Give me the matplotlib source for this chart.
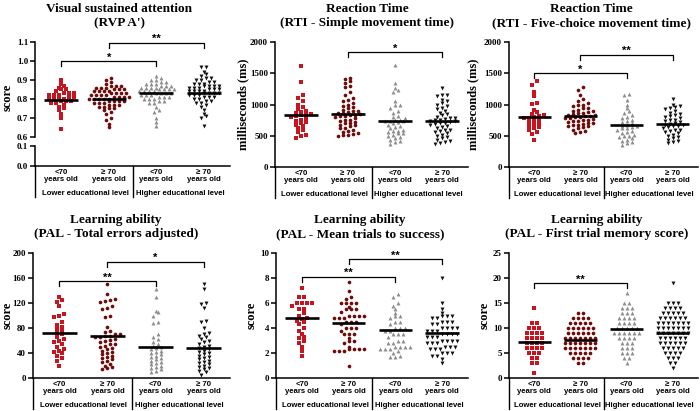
import numpy as np
import matplotlib
matplotlib.use("Agg")
import matplotlib.pyplot as plt
from matplotlib.lines import Line2D

W, H = 700, 411
SERIF = "Liberation Serif"
SANS = "Liberation Sans"

group_labels = ["<70\nyears old", "\u2265 70\nyears old", "<70\nyears old", "\u2265 70\nyears old"]
edu_labels = ["Lower educational level", "Higher educational level"]
colors = ["#c8141e", "#6e0c0c", "#8c8c8c", "#111111"]
markers = ["s", "o", "^", "v"]
msizes = [6, 7, 8, 8]

# ---- RVP A'
rvp_1 = [0.90, 0.88, 0.87, 0.86, 0.85, 0.85, 0.84, 0.83, 0.83, 0.83, 0.82, 0.82, 0.82, 0.81, 0.81,
         0.80, 0.80, 0.80, 0.80, 0.79, 0.79, 0.79, 0.78, 0.78, 0.77, 0.76, 0.75, 0.74, 0.72, 0.70, 0.64]
rvp_2 = [0.91, 0.90, 0.89, 0.88, 0.87, 0.87, 0.87, 0.86, 0.86, 0.86, 0.85, 0.85, 0.85, 0.84, 0.84,
         0.84, 0.84, 0.83, 0.83, 0.83, 0.83, 0.82, 0.82, 0.82, 0.82, 0.81, 0.81, 0.81, 0.81, 0.80,
         0.80, 0.80, 0.80, 0.80, 0.79, 0.79, 0.79, 0.79, 0.78, 0.78, 0.78, 0.77, 0.77, 0.77, 0.76,
         0.76, 0.75, 0.75, 0.74, 0.73, 0.72, 0.70, 0.69, 0.67, 0.65]
rvp_3 = [0.92, 0.91, 0.90, 0.90, 0.89, 0.89, 0.88, 0.88, 0.88, 0.87, 0.87, 0.87, 0.86, 0.86, 0.86,
         0.86, 0.85, 0.85, 0.85, 0.85, 0.84, 0.84, 0.84, 0.84, 0.83, 0.83, 0.83, 0.83, 0.82, 0.82,
         0.82, 0.81, 0.81, 0.81, 0.80, 0.80, 0.80, 0.79, 0.79, 0.78, 0.78, 0.76, 0.74, 0.73, 0.70,
         0.68, 0.66]
rvp_4 = [0.97, 0.97, 0.94, 0.93, 0.92, 0.91, 0.91, 0.90, 0.90, 0.89, 0.89, 0.88, 0.88, 0.88, 0.87,
         0.87, 0.87, 0.87, 0.86, 0.86, 0.86, 0.85, 0.85, 0.85, 0.84, 0.84, 0.84, 0.84, 0.83, 0.83,
         0.83, 0.83, 0.82, 0.82, 0.82, 0.81, 0.81, 0.81, 0.80, 0.80, 0.79, 0.79, 0.78, 0.78, 0.77,
         0.76, 0.74, 0.72, 0.71, 0.70, 0.66]
rvp_means = [0.795, 0.80, 0.83, 0.833]

# ---- RTI simple movement time
simple_1 = [1610, 1360, 1150, 1100, 1050, 1000, 960, 930, 900, 880, 860, 850, 840, 830, 820, 800,
            780, 760, 740, 720, 700, 680, 650, 620, 600, 560, 520, 500, 470]
simple_2 = [1430, 1410, 1380, 1350, 1300, 1280, 1200, 1150, 1100, 1080, 1050, 1020, 1000, 980, 960,
            940, 920, 900, 890, 880, 870, 860, 850, 840, 830, 820, 810, 800, 780, 760, 750, 740,
            720, 700, 700, 680, 670, 650, 630, 620, 600, 580, 560, 550, 530, 520, 510, 500]
simple_3 = [1630, 1350, 1270, 1230, 1200, 1050, 1000, 990, 950, 900, 870, 820, 800, 780, 760, 750,
            740, 740, 730, 720, 700, 680, 660, 640, 620, 600, 580, 570, 560, 550, 540, 520, 500,
            480, 460, 440, 420, 400, 370]
simple_4 = [1260, 1160, 1150, 1130, 1070, 1050, 1020, 1000, 970, 950, 930, 900, 870, 850, 830, 800,
            790, 780, 770, 760, 750, 740, 730, 720, 710, 700, 690, 680, 660, 640, 620, 600, 590,
            580, 560, 540, 520, 500, 480, 460, 440, 420, 400, 380, 370]
simple_means = [840, 855, 740, 730]

# ---- RTI five-choice movement time
five_1 = [1370, 1320, 1200, 1130, 1020, 1010, 920, 880, 850, 830, 820, 800, 790, 780, 760, 740,
          720, 700, 680, 660, 640, 620, 600, 560, 530, 430]
five_2 = [1280, 1230, 1150, 1090, 1050, 1020, 1000, 990, 970, 950, 940, 920, 900, 890, 880, 870,
          860, 850, 840, 830, 820, 810, 800, 800, 790, 780, 770, 760, 750, 740, 730, 720, 710, 700,
          690, 680, 670, 660, 650, 640, 620, 600, 580, 560, 540]
five_3 = [1170, 1150, 1070, 1000, 940, 900, 860, 830, 800, 780, 760, 740, 720, 700, 680, 660, 650,
          640, 630, 620, 600, 580, 560, 540, 520, 500, 490, 480, 460, 440, 420, 400, 380, 360]
five_4 = [1090, 990, 980, 960, 950, 930, 900, 870, 850, 830, 810, 800, 780, 760, 750, 740, 720, 700,
          690, 680, 670, 660, 650, 640, 620, 600, 590, 580, 560, 540, 520, 500, 480, 460, 440, 420,
          400, 380]
five_means = [800, 810, 665, 685]

# ---- PAL total errors adjusted
err_1 = [130, 125, 122, 115, 102, 100, 98, 90, 85, 82, 78, 75, 72, 70, 65, 62, 60, 58, 55, 50, 47,
         44, 42, 40, 35, 32, 28, 20]
err_2 = [150, 134, 127, 125, 124, 122, 115, 112, 110, 100, 98, 82, 76, 73, 70, 70, 68, 67, 66, 65,
         63, 61, 60, 58, 55, 54, 52, 50, 48, 46, 44, 42, 40, 38, 36, 34, 32, 30, 28, 26, 22, 20, 18,
         16, 14]
err_3 = [142, 130, 108, 105, 100, 90, 88, 70, 66, 62, 58, 55, 52, 50, 48, 46, 44, 42, 40, 38, 36,
         34, 32, 30, 28, 26, 24, 22, 20, 18, 16, 14, 12, 10]
err_4 = [150, 142, 120, 118, 112, 92, 90, 80, 72, 70, 68, 65, 62, 60, 58, 55, 52, 50, 48, 46, 44,
         42, 40, 38, 36, 34, 32, 30, 28, 26, 24, 22, 20, 18, 16, 14, 12, 10, 5]
err_means = [72, 68, 49, 48]

# ---- PAL mean trials to success
trials_1 = [7.2, 6.5, 6.5, 6.0, 6.0, 6.0, 6.0, 5.8, 5.5, 5.5, 5.2, 5.0, 4.8, 4.7, 4.6, 4.5, 4.3,
            4.0, 3.8, 3.5, 3.3, 3.2, 3.0, 2.8, 2.5, 2.2, 1.8]
trials_2 = [7.7, 7.0, 6.5, 6.3, 6.0, 6.0, 6.0, 6.0, 5.7, 5.5, 5.5, 5.5, 5.3, 5.0, 5.0, 5.0, 5.0,
            4.8, 4.8, 4.8, 4.5, 4.5, 4.5, 4.3, 4.0, 4.0, 4.0, 3.8, 3.5, 3.5, 3.5, 3.2, 3.0, 3.0,
            2.8, 2.5, 2.3, 2.3, 2.3, 2.3, 2.2, 2.2, 2.2, 1.0]
trials_3 = [6.7, 6.5, 6.0, 5.8, 5.5, 5.2, 5.0, 5.0, 4.8, 4.5, 4.5, 4.3, 4.0, 4.0, 4.0, 3.8, 3.8,
            3.5, 3.5, 3.5, 3.3, 3.0, 3.0, 2.8, 2.8, 2.5, 2.5, 2.5, 2.5, 2.3, 2.3, 2.3, 2.2, 2.0,
            1.8, 1.7, 1.7]
trials_4 = [8.0, 6.0, 5.5, 5.2, 5.0, 5.0, 5.0, 4.8, 4.8, 4.5, 4.5, 4.5, 4.3, 4.3, 4.0, 4.0, 4.0,
            4.0, 3.8, 3.8, 3.8, 3.5, 3.5, 3.5, 3.5, 3.3, 3.3, 3.3, 3.0, 3.0, 3.0, 3.0, 2.8, 2.8,
            2.8, 2.5, 2.5, 2.5, 2.3, 2.3, 2.3, 2.0, 2.0, 2.0, 1.8, 1.8, 1.5, 1.2]
trials_means = [4.8, 4.4, 3.85, 3.6]

# ---- PAL first trial memory score (score values and how many participants)
mem_1_val = [14, 11, 10, 9, 8, 7, 6, 5, 4, 3, 1]
mem_1_cnt = [1, 2, 3, 4, 4, 4, 4, 3, 2, 2, 1]
mem_2_val = [13, 12, 11, 10, 9, 8, 7, 6, 5, 4, 3]
mem_2_cnt = [2, 4, 5, 6, 6, 7, 7, 7, 5, 4, 2]
mem_3_val = [17, 15, 14, 13, 12, 11, 10, 9, 8, 7, 6, 5, 4, 3]
mem_3_cnt = [1, 2, 3, 3, 4, 4, 5, 6, 4, 3, 3, 3, 2, 1]
mem_4_val = [19, 15, 14, 13, 12, 11, 10, 9, 8, 7, 6, 5, 4, 3, 2]
mem_4_cnt = [1, 3, 4, 5, 6, 7, 7, 7, 6, 6, 5, 4, 3, 2, 1]
mem_means = [7.3, 7.7, 9.8, 9.1]

fig = plt.figure(figsize=(7, 4.11), dpi=100)
XLIM = (-0.55, 3.55)


def add_axes(l, t, r, b):
    return fig.add_axes([l / W, 1 - b / H, (r - l) / W, (b - t) / H])


def style(ax, ylim, yticks, fmt):
    ax.set_xlim(XLIM)
    ax.set_ylim(ylim)
    ax.set_yticks(yticks)
    ax.set_yticklabels([fmt.format(t) for t in yticks], fontfamily=SERIF,
                       fontweight="bold", fontsize=6.5)
    ax.spines["top"].set_visible(False)
    ax.spines["right"].set_visible(False)
    ax.spines["left"].set_linewidth(1.1)
    ax.spines["bottom"].set_linewidth(1.1)
    ax.tick_params(axis="y", length=3.5, width=1.1, pad=1.5)
    ax.set_facecolor("none")


def swarm(vals, ppx, ppy, dx=5.0, dy=3.2):
    # rows of height dy, points in a row spread dx apart around the centre
    vals = np.asarray(vals, dtype=float)
    xs = np.zeros(len(vals))
    ypx = vals * ppy
    order = np.argsort(ypx, kind="stable")
    rows, cur, start = [], [], None
    for i in order:
        if start is None or ypx[i] - start >= dy:
            if cur:
                rows.append(cur)
            cur, start = [i], ypx[i]
        else:
            cur.append(i)
    if cur:
        rows.append(cur)
    for row in rows:
        n = len(row)
        for k, i in enumerate(row):
            xs[i] = (k - (n - 1) / 2) * dx / ppx
    return xs


def draw_groups(ax, data, means, ppx, ppy):
    for g, vals in enumerate(data):
        off = swarm(vals, ppx, ppy)
        ax.scatter(g + off, vals, s=msizes[g], marker=markers[g], color=colors[g],
                   linewidths=0, zorder=2, clip_on=False)
        ax.plot([g - 0.36, g + 0.36], [means[g], means[g]], color="black", lw=1.9,
                solid_capstyle="butt", zorder=3)


def draw_brackets(ax, brackets, ppy):
    drop = 5 / ppy
    for a, b, y, stars in brackets:
        ax.plot([a, a, b, b], [y - drop, y, y, y - drop], color="black", lw=0.9,
                clip_on=False, zorder=3)
        ax.annotate(stars, (0.5 * (a + b), y), xytext=(0, -1), textcoords="offset points",
                    ha="center", va="bottom", fontsize=8, fontweight="bold",
                    fontfamily=SANS)


def xaxis_labels(ax, l, r, axis_y):
    ax.set_xticks(range(4))
    ax.set_xticklabels(group_labels, fontfamily=SANS, fontweight="bold", fontsize=5.6,
                       linespacing=1.0)
    ax.tick_params(axis="x", length=0, pad=2.5)
    ppx = (r - l) / (XLIM[1] - XLIM[0])
    for xv in (XLIM[0], 1.5):
        xp = l + (xv - XLIM[0]) * ppx
        fig.add_artist(Line2D([xp / W, xp / W], [1 - axis_y / H, 1 - (axis_y + 31) / H],
                              color="black", lw=1.0))
    for k, xv in enumerate((0.5, 2.5)):
        xp = l + (xv - XLIM[0]) * ppx
        fig.text(xp / W, 1 - (axis_y + 27) / H, edu_labels[k], ha="center", va="center",
                 fontfamily=SANS, fontweight="bold", fontsize=5.6)


def titles(x, y, text):
    fig.text(x / W, 1 - y / H, text, ha="center", va="center", fontfamily=SERIF,
             fontweight="bold", fontsize=9.5, linespacing=1.2)


def ylab(x, y, text):
    fig.text(x / W, 1 - y / H, text, ha="center", va="center", rotation=90,
             fontfamily=SERIF, fontweight="bold", fontsize=9)


# ---------------- panel 1 (broken axis)
l, r = 35, 230
ax_up = add_axes(l, 42, r, 137)
ax_lo = add_axes(l, 146, r, 166)
style(ax_up, (0.6, 1.1), [0.6, 0.7, 0.8, 0.9, 1.0, 1.1], "{:.1f}")
style(ax_lo, (0.0, 0.1), [0.0, 0.1], "{:.1f}")
ax_up.spines["bottom"].set_visible(False)
ax_up.set_xticks([])
ppx = (r - l) / (XLIM[1] - XLIM[0])
ppy = 95 / 0.5
draw_groups(ax_up, [rvp_1, rvp_2, rvp_3, rvp_4], rvp_means, ppx, ppy)
draw_brackets(ax_up, [(0, 2, 1.0, "*"), (1, 3, 1.095, "**")], ppy)
xaxis_labels(ax_lo, l, r, 166)
titles(119, 16, "Visual sustained attention\n(RVP A')")
ylab(8, 97, "score")

# ---------------- other panels
panels = [
    dict(box=(275, 42, 468, 167), ylim=(0, 2000), ticks=[0, 500, 1000, 1500, 2000], fmt="{:.0f}",
         data=[simple_1, simple_2, simple_3, simple_4], means=simple_means,
         br=[(1, 3, 1840, "*")], title=(367, 16, "Reaction Time\n(RTI - Simple movement time)"),
         ylab=(243, 104, "milliseconds (ms)")),
    dict(box=(509, 42, 698, 167), ylim=(0, 2000), ticks=[0, 500, 1000, 1500, 2000], fmt="{:.0f}",
         data=[five_1, five_2, five_3, five_4], means=five_means,
         br=[(0, 2, 1500, "*"), (1, 3, 1800, "**")],
         title=(591, 16, "Reaction Time\n(RTI - Five-choice movement time)"),
         ylab=(473, 104, "milliseconds (ms)")),
    dict(box=(33, 253, 230, 378), ylim=(0, 200), ticks=[0, 40, 80, 120, 160, 200], fmt="{:.0f}",
         data=[err_1, err_2, err_3, err_4], means=err_means,
         br=[(0, 2, 155, "**"), (1, 3, 186, "*")],
         title=(116, 227, "Learning ability\n(PAL - Total errors adjusted)"),
         ylab=(8, 315, "score")),
    dict(box=(276, 253, 468, 378), ylim=(0, 10), ticks=[0, 2, 4, 6, 8, 10], fmt="{:.0f}",
         data=[trials_1, trials_2, trials_3, trials_4], means=trials_means,
         br=[(0, 2, 8.1, "**"), (1, 3, 9.5, "**")],
         title=(360, 227, "Learning ability\n(PAL - Mean trials to success)"),
         ylab=(252, 315, "score")),
    dict(box=(509, 253, 698, 378), ylim=(0, 25), ticks=[0, 5, 10, 15, 20, 25], fmt="{:.0f}",
         data=[np.repeat(mem_1_val, mem_1_cnt), np.repeat(mem_2_val, mem_2_cnt),
               np.repeat(mem_3_val, mem_3_cnt), np.repeat(mem_4_val, mem_4_cnt)],
         means=mem_means, br=[(0, 2, 19, "**")],
         title=(597, 227, "Learning ability\n(PAL - First trial memory score)"),
         ylab=(485, 315, "score")),
]

for p in panels:
    l, t, r, b = p["box"]
    ax = add_axes(l, t, r, b)
    style(ax, p["ylim"], p["ticks"], p["fmt"])
    ppx = (r - l) / (XLIM[1] - XLIM[0])
    ppy = (b - t) / (p["ylim"][1] - p["ylim"][0])
    draw_groups(ax, p["data"], p["means"], ppx, ppy)
    draw_brackets(ax, p["br"], ppy)
    xaxis_labels(ax, l, r, b)
    titles(*p["title"])
    ylab(*p["ylab"])

fig.savefig("out.png", dpi=100)
